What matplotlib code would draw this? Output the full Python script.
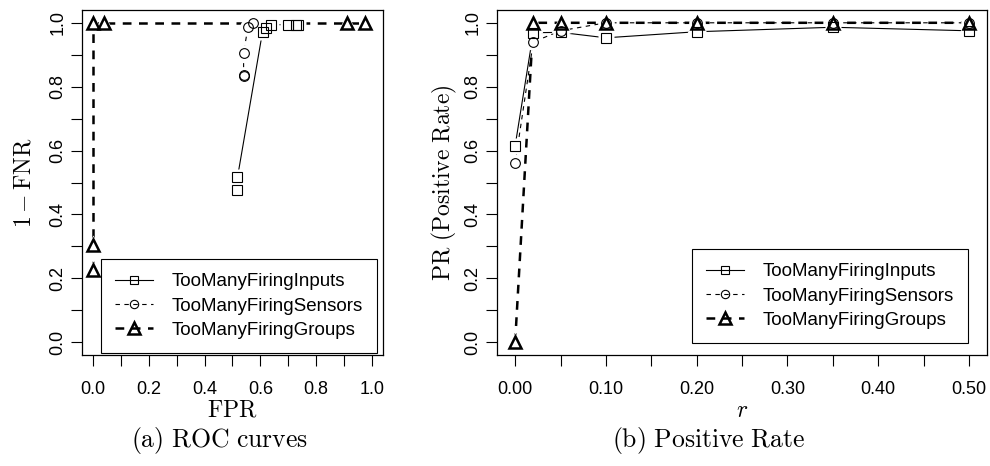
import numpy as np
import matplotlib
matplotlib.use("Agg")
from matplotlib import pyplot as plt
from matplotlib.lines import Line2D
from matplotlib.ticker import FixedLocator, FuncFormatter

plt.rcParams["font.family"] = ["Liberation Sans", "DejaVu Sans"]
plt.rcParams["mathtext.fontset"] = "cm"

# (a) ROC curves
roc_inputs_fpr = [0.518, 0.518, 0.608, 0.622, 0.637, 0.700, 0.727, 0.737]
roc_inputs_tpr = [0.478, 0.516, 0.972, 0.985, 0.994, 0.994, 0.994, 0.994]
roc_sensors_fpr = [0.540, 0.540, 0.540, 0.556, 0.572]
roc_sensors_tpr = [0.832, 0.838, 0.906, 0.988, 1.0]
roc_groups_fpr = [0.0, 0.0, 0.0, 0.04, 0.912, 0.977]
roc_groups_tpr = [0.225, 0.305, 1.0, 1.0, 1.0, 1.0]

# (b) Positive rate vs r
r_vals = [0.0, 0.02, 0.05, 0.10, 0.20, 0.35, 0.50]
pr_inputs = [0.615, 0.969, 0.970, 0.953, 0.972, 0.986, 0.975]
pr_sensors = [0.560, 0.940, 0.975, 1.0, 1.0, 1.0, 1.0]
pr_groups = [0.0, 1.0, 1.0, 1.0, 1.0, 1.0, 1.0]

names = ["TooManyFiringInputs", "TooManyFiringSensors", "TooManyFiringGroups"]
styles = [
    dict(marker="s", ms=7, mew=0.8, ls="-", lw=0.8, dashes=None),
    dict(marker="o", ms=7, mew=0.8, ls="--", lw=0.8, dashes=(4, 4)),
    dict(marker="^", ms=9, mew=1.8, ls="--", lw=1.8, dashes=(3.5, 3)),
]


def draw(ax, xs, ys):
    for (x, y), st in zip(zip(xs, ys), styles):
        kw = dict(color="black", lw=st["lw"], ls=st["ls"])
        if st["dashes"]:
            kw["dashes"] = st["dashes"]
        ax.plot(x, y, zorder=2, **kw)
        # white blobs give the R type="b" gaps around points
        ax.plot(x, y, ls="none", marker=st["marker"], ms=st["ms"] + 5,
                mfc="white", mec="none", zorder=3)
        ax.plot(x, y, ls="none", marker=st["marker"], ms=st["ms"],
                mfc="none", mec="black", mew=st["mew"], zorder=4)


def legend(ax, anchor):
    handles = []
    for st in styles:
        kw = dict(color="black", lw=st["lw"], ls=st["ls"])
        if st["dashes"]:
            kw["dashes"] = st["dashes"]
        handles.append(Line2D([], [], marker=st["marker"], ms=st["ms"] - 1,
                              mfc="none", mec="black", mew=st["mew"], **kw))
    lg = ax.legend(handles, names, loc="lower right", bbox_to_anchor=anchor,
                   borderaxespad=0, fontsize=13.5, fancybox=False,
                   edgecolor="black", framealpha=1, handlelength=2.0,
                   labelspacing=0.38, borderpad=0.75, handletextpad=1.0)
    lg.get_frame().set_linewidth(0.8)


def style_axes(ax):
    for s in ax.spines.values():
        s.set_linewidth(0.9)
    ax.tick_params(direction="out", length=8, width=0.8, labelsize=13)
    ax.tick_params(axis="x", pad=11)
    ax.tick_params(axis="y", pad=3)
    ax.set_ylim(-0.04, 1.04)
    ax.yaxis.set_major_locator(FixedLocator(np.arange(0, 1.01, 0.1)))
    ax.yaxis.set_major_formatter(FuncFormatter(
        lambda v, p: f"{v:.1f}" if round(v * 10) % 2 == 0 else ""))


fig = plt.figure(figsize=(9.9, 4.66), dpi=100)
ax1 = fig.add_axes([0.0828, 0.2382, 0.3040, 0.7403])
ax2 = fig.add_axes([0.502, 0.2382, 0.495, 0.7403])

draw(ax1, [roc_inputs_fpr, roc_sensors_fpr, roc_groups_fpr],
     [roc_inputs_tpr, roc_sensors_tpr, roc_groups_tpr])
draw(ax2, [r_vals] * 3, [pr_inputs, pr_sensors, pr_groups])

style_axes(ax1)
ax1.set_xlim(-0.04, 1.04)
ax1.xaxis.set_major_locator(FixedLocator(np.arange(0, 1.01, 0.1)))
ax1.xaxis.set_major_formatter(FuncFormatter(
    lambda v, p: f"{v:.1f}" if round(v * 10) % 2 == 0 else ""))
ax1.set_xlabel(r"$\mathrm{FPR}$", fontsize=17, labelpad=1)
ax1.set_ylabel(r"$1-\mathrm{FNR}$", fontsize=17, labelpad=10)
legend(ax1, (0.98, 0.006))

style_axes(ax2)
ax2.set_xlim(-0.02, 0.52)
ax2.xaxis.set_major_locator(FixedLocator(np.arange(0, 0.501, 0.05)))
ax2.xaxis.set_major_formatter(FuncFormatter(
    lambda v, p: f"{v:.2f}" if round(v * 20) % 2 == 0 else ""))
ax2.set_xlabel(r"$r$", fontsize=17, labelpad=1)
ax2.set_ylabel(r"$\mathrm{PR\ (Positive\ Rate)}$", fontsize=17, labelpad=4)
legend(ax2, (0.961, 0.035))

for ax in (ax1, ax2):
    for t in ax.get_yticklabels():
        t.set_rotation(90)
        t.set_va("center")

fig.text(0.222, 0.04, r"$\mathrm{(a)\ ROC\ curves}$", ha="center", fontsize=18.5)
fig.text(0.716, 0.04, r"$\mathrm{(b)\ Positive\ Rate}$", ha="center", fontsize=18.5)

fig.savefig("out.png", dpi=100)
